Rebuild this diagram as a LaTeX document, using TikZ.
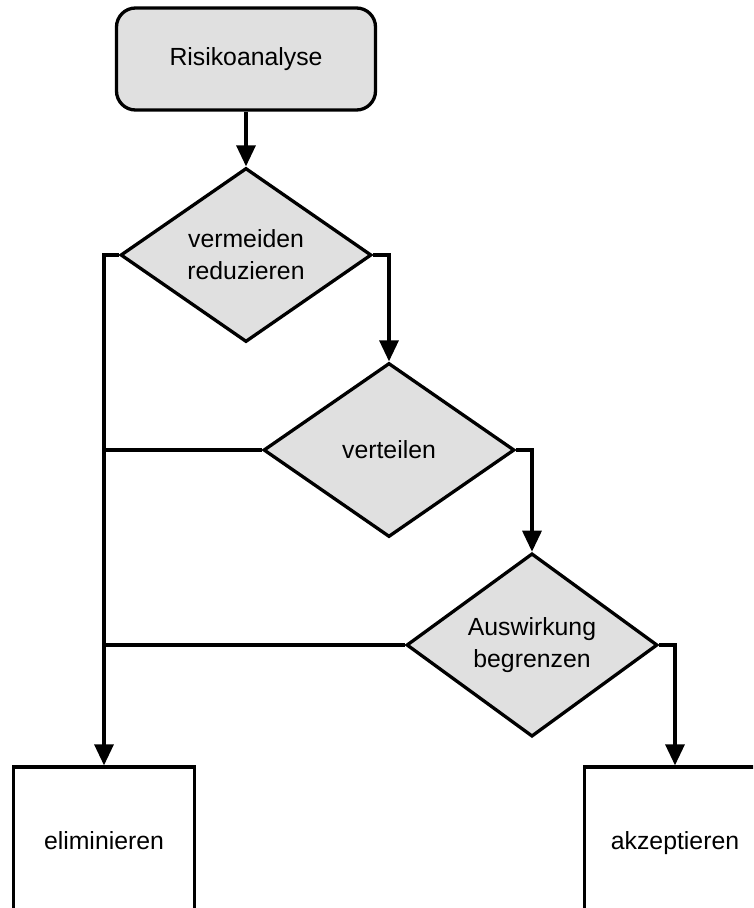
\documentclass[tikz,border=0pt]{standalone}
\usepackage{fontspec}
\setmainfont{Liberation Sans}
\usetikzlibrary{shapes.geometric,arrows.meta}
\definecolor{boxgray}{RGB}{224,224,224}
\tikzset{
  outline/.style={draw=black, line width=3.3pt, font=\fontsize{24.8}{32}\selectfont, inner sep=0pt},
  base/.style={outline, align=center},
  startbox/.style={base, fill=boxgray, rounded corners=19pt, minimum width=259pt, minimum height=102pt},
  decision/.style={base, diamond, fill=boxgray, minimum width=251pt, minimum height=174pt},
  outcome/.style={outline, rectangle, fill=white, minimum width=181pt, minimum height=152pt,
    text height=18pt, text depth=5pt},
  conn/.style={line width=3.3pt, draw=black},
  flow/.style={conn, -{Triangle[length=21pt,width=19pt]}}
}
\begin{document}
\begin{tikzpicture}[x=1pt,y=-1pt]
  \useasboundingbox (0,0) rectangle (753,908);
  \clip (0,0) rectangle (753,908);

  \node[startbox] (start) at (246,59) {Risikoanalyse};
  \node[decision] (d1) at (246,255) {vermeiden\\reduzieren};
  \node[decision] (d2) at (389,450) {verteilen};
  \node[decision] (d3) at (532,645) {Auswirkung\\begrenzen};
  \node[outcome] (elim) at (104,843) {eliminieren};
  \node[outcome] (akz) at (675,843) {akzeptieren};

  \draw[flow] (start.south) -- (d1.north);
  \draw[flow] (d1.east) -| (d2.north);
  \draw[flow] (d2.east) -| (d3.north);
  \draw[flow] (d3.east) -| (akz.north);
  \draw[flow] (d1.west) -| (elim.north);
  \draw[conn] (d2.west) -- (d2.west -| elim.north);
  \draw[conn] (d3.west) -- (d3.west -| elim.north);
\end{tikzpicture}
\end{document}
